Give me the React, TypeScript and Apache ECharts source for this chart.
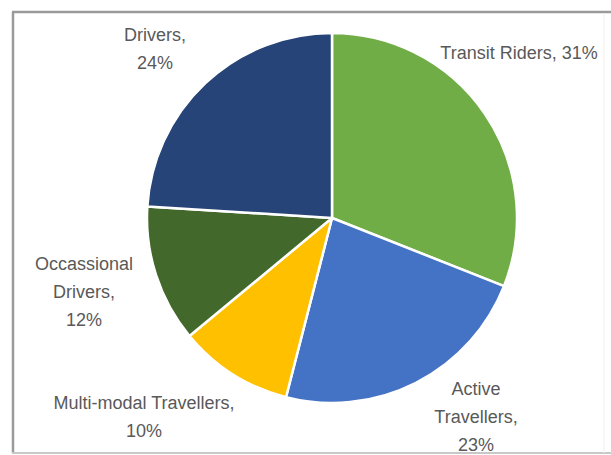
import React, { useEffect, useRef } from "react";
import * as echarts from "echarts";

const categories = [
  "Transit Riders",
  "Active Travellers",
  "Multi-modal Travellers",
  "Occassional Drivers",
  "Drivers",
];
const values = [31, 23, 10, 12, 24];
const labelTexts = [
  "Transit Riders, 31%",
  "Active\nTravellers,\n23%",
  "Multi-modal Travellers,\n10%",
  "Occassional\nDrivers,\n12%",
  "Drivers,\n24%",
];
const colors = ["#70AD47", "#4472C4", "#FFC000", "#43682B", "#264478"];
const labelPos: [number, number][] = [
  [519, 53],
  [476, 417],
  [144, 417],
  [84, 292],
  [155, 49],
];

export default function App() {
  const ref = useRef<HTMLDivElement>(null);
  useEffect(() => {
    if (!ref.current) return;
    const chart = echarts.init(ref.current, undefined, { renderer: "svg" });
    chart.setOption({
      animation: false,
      backgroundColor: "#ffffff",
      graphic: [
        {
          type: "line",
          shape: { x1: 12, y1: 12, x2: 611, y2: 12 },
          style: { stroke: "#9a9a9a", lineWidth: 2.5 },
          silent: true,
        },
        {
          type: "line",
          shape: { x1: 13, y1: 12, x2: 13, y2: 453 },
          style: { stroke: "#9a9a9a", lineWidth: 2.5 },
          silent: true,
        },
        {
          type: "line",
          shape: { x1: 12, y1: 453, x2: 611, y2: 453 },
          style: { stroke: "#c8c8c8", lineWidth: 2 },
          silent: true,
        },
        {
          type: "line",
          shape: { x1: 604, y1: 13, x2: 604, y2: 453 },
          style: { stroke: "#eeeeee", lineWidth: 1 },
          silent: true,
        },
      ],
      series: [
        {
          type: "pie",
          center: [332, 218],
          radius: 185,
          startAngle: 90,
          clockwise: true,
          avoidLabelOverlap: false,
          itemStyle: { borderColor: "#ffffff", borderWidth: 2.5 },
          label: {
            show: true,
            position: "outside",
            color: "#595959",
            fontFamily: "Liberation Sans, Arial, sans-serif",
            fontSize: 18,
            lineHeight: 28,
            align: "center",
            formatter: (p: any) => labelTexts[p.dataIndex],
          },
          labelLine: { show: false },
          labelLayout: (p: any) => ({
            x: labelPos[p.dataIndex][0],
            y: labelPos[p.dataIndex][1],
            align: "center",
            verticalAlign: "middle",
          }),
          data: categories.map((c, i) => ({
            name: c,
            value: values[i],
            itemStyle: { color: colors[i] },
          })),
        },
      ],
    });
    return () => chart.dispose();
  }, []);
  return (
    <div
      ref={ref}
      style={{ position: "fixed", left: 0, top: 0, width: 611, height: 455 }}
    />
  );
}
